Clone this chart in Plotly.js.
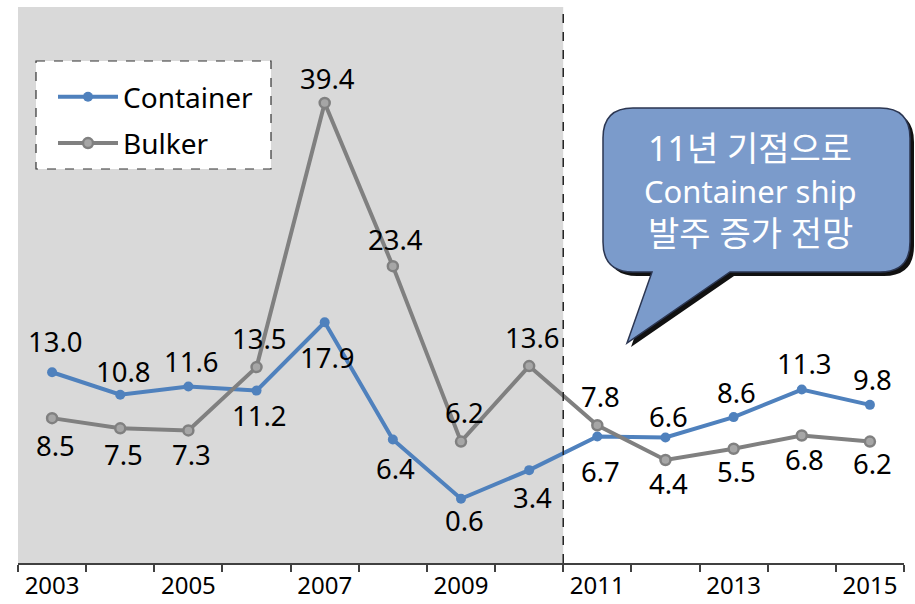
<!DOCTYPE html>
<html>
<head>
<meta charset="utf-8">
<script src="https://cdn.plot.ly/plotly-3.0.1.min.js"></script>
<style>html,body{margin:0;padding:0;background:#fff;}#chart{width:915px;height:604px;}</style>
</head>
<body>
<div id="chart"></div>
<script>
// ---- data ----
var years = ['2003','2004','2005','2006','2007','2008','2009','2010','2011','2012','2013','2014','2015'];
var tickLabels = ['2003','','2005','','2007','','2009','','2011','','2013','','2015'];
var container = [13.0, 10.8, 11.6, 11.2, 17.9, 6.4, 0.6, 3.4, 6.7, 6.6, 8.6, 11.3, 9.8];
var bulker = [8.5, 7.5, 7.3, 13.5, 39.4, 23.4, 6.2, 13.6, 7.8, 4.4, 5.5, 6.8, 6.2];
var calloutLines = ['11년 기점으로', 'Container ship', '발주 증가 전망'];

// ---- style (label offsets in pixels, + = below the point) ----
var containerLabelOffset = [-29, -21, -23, 27, 37, 31, 24, 29, 37, -19, -23, -24, -23];
var bulkerLabelOffset = [29, 28, 26, -27, -22, -25, -27, -27, -27, 26, 25, 26, 24];
var FONT = 'Noto Sans, Noto Sans CJK KR, sans-serif';
var W = 915, H = 604, ML = 18, MR = 11, MT = 7, MB = 41;
function px(x){ return (x - ML) / (W - ML - MR); }
function py(y){ return (H - MB - y) / (H - MT - MB); }
function pt(x, y){ return px(x).toFixed(5) + ',' + py(y).toFixed(5); }

function callout(dx, dy){
  var L = 603 + dx, R = 910 + dx, T = 108 + dy, B = 272 + dy, r = 30;
  return 'M' + pt(L + r, T) + ' L' + pt(R - r, T) + ' Q' + pt(R, T) + ' ' + pt(R, T + r) +
    ' L' + pt(R, B - r) + ' Q' + pt(R, B) + ' ' + pt(R - r, B) +
    ' L' + pt(730 + dx, B) + ' L' + pt(627 + dx, 343 + dy) + ' L' + pt(652 + dx, B) +
    ' L' + pt(L + r, B) + ' Q' + pt(L, B) + ' ' + pt(L, B - r) +
    ' L' + pt(L, T + r) + ' Q' + pt(L, T) + ' ' + pt(L + r, T) + ' Z';
}

var traces = [
  {x: years, y: container, name: 'Container', type: 'scatter', mode: 'lines+markers',
   line: {color: '#4F81BD', width: 4}, marker: {color: '#4F81BD', size: 10}, legendgroup: 'a'},
  {x: years, y: bulker, name: 'Bulker', type: 'scatter', mode: 'lines+markers',
   line: {color: '#808080', width: 4}, marker: {color: '#A6A6A6', size: 10, line: {color: '#808080', width: 2.5}}, legendgroup: 'b'}
];

var annotations = [];
function addLabels(vals, offs){
  vals.forEach(function(v, i){
    annotations.push({x: i, y: v, xref: 'x', yref: 'y', text: v.toFixed(1), showarrow: false,
      xanchor: 'center', yanchor: 'middle', xshift: 3,
      yshift: 2 - offs[i], font: {family: FONT, size: 27.5, color: '#000'}});
  });
}
addLabels(container, containerLabelOffset);
addLabels(bulker, bulkerLabelOffset);
var lineY = [148, 191, 233];
var lineSize = [34, 31, 34];
calloutLines.forEach(function(t, i){
  annotations.push({x: px(750), y: py(lineY[i]), xref: 'paper', yref: 'paper', text: t, showarrow: false,
    xanchor: 'center', yanchor: 'middle',
    font: {family: FONT, size: lineSize[i], color: '#fff'}});
});

var shapes = [
  {type: 'rect', xref: 'x', yref: 'paper', x0: -0.5, x1: 7.5, y0: 0, y1: 1, fillcolor: '#D9D9D9', line: {width: 0}, layer: 'below'},
  {type: 'line', xref: 'x', yref: 'paper', x0: 7.5, x1: 7.5, y0: 0, y1: 1, line: {color: '#222', width: 1.5, dash: 'dash'}, layer: 'above'},
  {type: 'rect', xref: 'paper', yref: 'paper', x0: px(36), x1: px(271), y0: py(61), y1: py(169), fillcolor: '#fff', line: {color: '#333', width: 1.2, dash: 'dash'}, layer: 'below'},
  {type: 'path', xref: 'paper', yref: 'paper', path: callout(4, 4), fillcolor: '#111', line: {width: 0}, layer: 'above'},
  {type: 'path', xref: 'paper', yref: 'paper', path: callout(0, 0), fillcolor: '#7B9BCB', line: {color: '#2B3652', width: 1.5}, layer: 'above'}
];

var layout = {
  width: W, height: H,
  margin: {l: ML, r: MR, t: MT, b: MB, pad: 0},
  paper_bgcolor: '#fff', plot_bgcolor: 'rgba(0,0,0,0)',
  font: {family: FONT, color: '#000'},
  showlegend: true,
  legend: {x: px(53), y: py(72), xanchor: 'left', yanchor: 'top', bgcolor: 'rgba(0,0,0,0)', borderwidth: 0,
    font: {family: FONT, size: 28, color: '#000'}, tracegroupgap: 7, itemwidth: 60},
  xaxis: {type: 'category', range: [-0.5, 12.5], tickvals: years, ticktext: tickLabels, tickson: 'boundaries',
    ticks: 'outside', ticklen: 7, tickwidth: 2, tickcolor: '#404040', showline: true, linecolor: '#404040', linewidth: 2,
    showgrid: false, zeroline: false, tickfont: {family: FONT, size: 24, color: '#000'}, fixedrange: true},
  yaxis: {range: [-5.7, 48.8], visible: false, showgrid: false, zeroline: false, fixedrange: true},
  shapes: shapes,
  annotations: annotations
};

Plotly.newPlot('chart', traces, layout, {displayModeBar: false, staticPlot: true});
</script>
</body>
</html>
